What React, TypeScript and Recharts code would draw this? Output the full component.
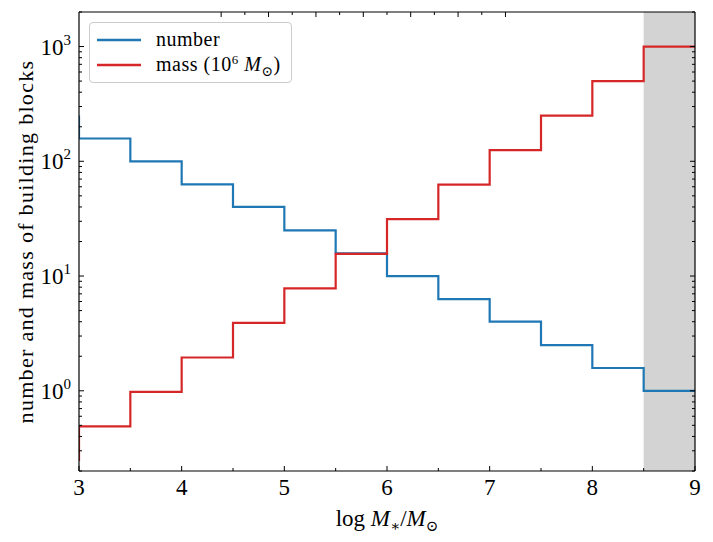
import { LineChart, Line, XAxis, YAxis, ReferenceArea } from 'recharts';

// bin edges (first edge repeated so the step starts with a vertical drop at x=3)
const logMass = [3, 3, 3.5, 4, 4.5, 5, 5.5, 6, 6.5, 7, 7.5, 8, 8.5, 9];
const numberBlocks = [251, 158, 100, 63, 40, 25, 15.8, 10, 6.3, 4, 2.5, 1.58, 1, 1];
const massBlocks = [0.244, 0.49, 0.98, 1.95, 3.9, 7.8, 15.6, 31.3, 62.5, 125, 250, 500, 1000, 1000];

const xTicks = [3, 3.5, 4, 4.5, 5, 5.5, 6, 6.5, 7, 7.5, 8, 8.5, 9];
const yMajor = [1, 10, 100, 1000];
const yMinor = [0.2, 0.3, 0.4, 0.5, 0.6, 0.7, 0.8, 0.9, 2, 3, 4, 5, 6, 7, 8, 9,
  20, 30, 40, 50, 60, 70, 80, 90, 200, 300, 400, 500, 600, 700, 800, 900, 2000];
const shadeRange = [8.5, 9];

const FONT = '"Liberation Serif", "DejaVu Serif", serif';
const BLUE = '#1f77b4';
const RED = '#d62728';

const chartData = logMass.map((x, i) => ({ x, number: numberBlocks[i], mass: massBlocks[i] }));

const XTickBottom = ({ x, y, payload }: any) => {
  const v = payload.value;
  const major = Number.isInteger(v);
  return (
    <g>
      <line x1={x} x2={x} y1={y} y2={y - (major ? 5 : 3)} stroke="#000" strokeWidth={1} />
      {major && (
        <text x={x} y={y + 24} textAnchor="middle" fontFamily={FONT} fontSize={23} fill="#000">{v}</text>
      )}
    </g>
  );
};

const XTickTop = ({ x, y, payload }: any) => {
  const major = Number.isInteger(payload.value);
  return <line x1={x} x2={x} y1={y} y2={y + (major ? 5 : 3)} stroke="#000" strokeWidth={1} />;
};

const YTickLeft = ({ x, y, payload }: any) => {
  const v = payload.value;
  const major = yMajor.includes(v);
  return (
    <g>
      <line x1={x} x2={x + (major ? 5 : 3)} y1={y} y2={y} stroke="#000" strokeWidth={1} />
      {major && (
        <text x={x - 8} y={y + 8} textAnchor="end" fontFamily={FONT} fontSize={23} fill="#000">
          10<tspan dy={-10} fontSize={15}>{Math.round(Math.log10(v))}</tspan>
        </text>
      )}
    </g>
  );
};

const YTickRight = ({ x, y, payload }: any) => {
  const major = yMajor.includes(payload.value);
  return <line x1={x} x2={x - (major ? 5 : 3)} y1={y} y2={y} stroke="#000" strokeWidth={1} />;
};

const legendItems = [
  { color: BLUE, label: <span>number</span> },
  {
    color: RED,
    label: (
      <span>
        mass (10<sup style={{ fontSize: 13, verticalAlign: 'top', lineHeight: '16px' }}>6</sup>{' '}
        <i>M</i><sub style={{ fontSize: 14, lineHeight: 0 }}>⊙</sub>)
      </span>
    ),
  },
];

const LegendBox = () => (
  <div
    style={{
      position: 'absolute',
      left: 89,
      top: 22,
      width: 203,
      height: 61,
      boxSizing: 'border-box',
      border: '1px solid #cccccc',
      borderRadius: 4,
      background: 'rgba(255,255,255,0.8)',
      padding: '4px 0 0 7px',
      fontFamily: FONT,
      fontSize: 20,
      letterSpacing: 0.5,
      lineHeight: '25px',
    }}
  >
    {legendItems.map((r, i) => (
      <div key={i} style={{ display: 'flex', alignItems: 'center', height: 25 }}>
        <svg width={44} height={6} style={{ marginRight: 15, flex: 'none' }}>
          <line x1={0} x2={44} y1={3} y2={3} stroke={r.color} strokeWidth={2.5} />
        </svg>
        {r.label}
      </div>
    ))}
  </div>
);

export default function App() {
  return (
    <div style={{ position: 'absolute', left: 0, top: 0, width: 713, height: 542, background: '#fff' }}>
      <LineChart width={713} height={542} data={chartData} margin={{ top: 0, right: 0, bottom: 0, left: 0 }}>
        <XAxis
          xAxisId="b"
          dataKey="x"
          type="number"
          domain={[3, 9]}
          ticks={xTicks}
          interval={0}
          height={71}
          tickSize={0}
          tickMargin={0}
          tick={<XTickBottom />}
          axisLine={{ stroke: '#000', strokeWidth: 1.2 }}
          allowDataOverflow
          label={{
            content: ({ viewBox }: any) => (
              <text x={viewBox.x + viewBox.width / 2} y={viewBox.y + 55} textAnchor="middle" fontFamily={FONT} fontSize={23} fill="#000">
                log <tspan fontStyle="italic">M</tspan><tspan fontSize={15} dy={5}>∗</tspan><tspan dy={-5}>/</tspan><tspan fontStyle="italic">M</tspan><tspan fontSize={15} dy={5}>⊙</tspan>
              </text>
            ),
          }}
        />
        <XAxis
          xAxisId="t"
          orientation="top"
          type="number"
          domain={[3, 9]}
          ticks={xTicks}
          interval={0}
          height={12}
          tickSize={0}
          tickMargin={0}
          tick={<XTickTop />}
          axisLine={{ stroke: '#000', strokeWidth: 1.2 }}
          allowDataOverflow
        />
        <YAxis
          yAxisId="l"
          type="number"
          scale="log"
          domain={[0.2, 2000]}
          ticks={[...yMajor, ...yMinor]}
          interval={0}
          width={79}
          tickSize={0}
          tickMargin={0}
          tick={<YTickLeft />}
          axisLine={{ stroke: '#000', strokeWidth: 1.2 }}
          allowDataOverflow
          label={{
            content: ({ viewBox }: any) => {
              const cx = 25;
              const cy = viewBox.y + viewBox.height / 2;
              return (
                <text x={cx} y={cy} transform={`rotate(-90 ${cx} ${cy})`} textAnchor="middle" dominantBaseline="central" fontFamily={FONT} fontSize={22} letterSpacing={1.3} fill="#000">
                  number and mass of building blocks
                </text>
              );
            },
          }}
        />
        <YAxis
          yAxisId="r"
          orientation="right"
          type="number"
          scale="log"
          domain={[0.2, 2000]}
          ticks={[...yMajor, ...yMinor]}
          interval={0}
          width={18}
          tickSize={0}
          tickMargin={0}
          tick={<YTickRight />}
          axisLine={{ stroke: '#000', strokeWidth: 1.2 }}
          allowDataOverflow
        />
        <ReferenceArea
          xAxisId="b"
          yAxisId="l"
          x1={shadeRange[0]}
          x2={shadeRange[1]}
          fill="#d3d3d3"
          fillOpacity={1}
          stroke="none"
          ifOverflow="hidden"
        />
        <Line xAxisId="b" yAxisId="l" type="stepAfter" dataKey="number" stroke={BLUE} strokeWidth={2.2} dot={false} isAnimationActive={false} />
        <Line xAxisId="b" yAxisId="l" type="stepAfter" dataKey="mass" stroke={RED} strokeWidth={2.2} dot={false} isAnimationActive={false} />
      </LineChart>
      <LegendBox />
    </div>
  );
}
